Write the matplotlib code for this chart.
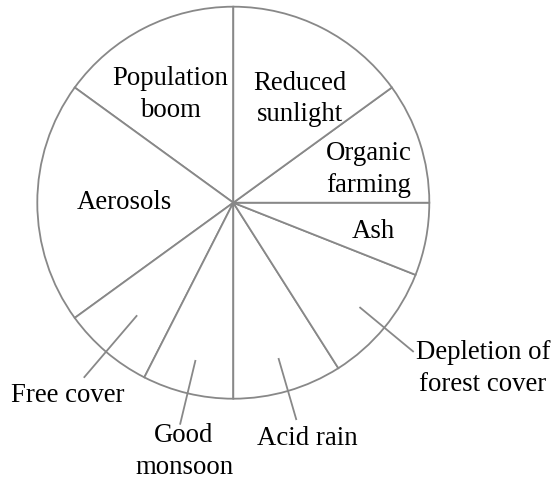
import numpy as np
import matplotlib
matplotlib.use("Agg")
import matplotlib.pyplot as plt

# slices, counter-clockwise starting at 12 o'clock
labels = ["Population\nboom", "Aerosols", "Free cover", "Good\nmonsoon", "Acid rain",
          "Depletion of\nforest cover", "Ash", "Organic\nfarming", "Reduced\nsunlight"]
shares = [15, 20, 7.5, 7.5, 9, 10, 6, 10, 15]

# label placement (pixel coords, y from top) and leader lines for outside labels
label_xy = [(170, 94.5), (124, 202.5), (68, 395.5), (184, 451.5), (307, 438.5),
            (483, 368.5), (373, 231.5), (369, 169.5), (300, 99)]
leader_r = {2: (0.76, 1.17), 3: (0.83, 1.16), 4: (0.83, 1.15), 5: (0.84, 1.19)}

W, H = 551, 479
CX, CY, R = 233.3, H - 202.7, 196
EDGE = "#888888"

plt.rcParams["font.family"] = ["Liberation Serif", "DejaVu Serif"]

fig = plt.figure(figsize=(W / 100, H / 100), dpi=100)
ax = fig.add_axes([0, 0, 1, 1])

wedges, _ = ax.pie(shares, startangle=90, counterclock=True, center=(CX, CY), radius=R,
                   wedgeprops=dict(facecolor="white", edgecolor=EDGE, linewidth=1.3))

for i, w in enumerate(wedges):
    x, y = label_xy[i]
    ax.text(x, H - y, labels[i], ha="center", va="center", multialignment="center",
            fontsize=19.3, color="black", linespacing=1.35)
    if i in leader_r:
        mid = np.deg2rad((w.theta1 + w.theta2) / 2)
        r0, r1 = leader_r[i]
        ax.plot([CX + r0 * R * np.cos(mid), CX + r1 * R * np.cos(mid)],
                [CY + r0 * R * np.sin(mid), CY + r1 * R * np.sin(mid)],
                color=EDGE, lw=1.3)

ax.set_xlim(0, W)
ax.set_ylim(0, H)
ax.set_aspect("equal")
ax.axis("off")

fig.savefig("out.png", dpi=100, facecolor="white")
